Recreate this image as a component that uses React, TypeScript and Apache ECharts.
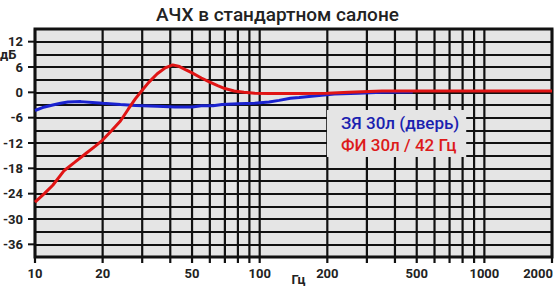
import React, { useEffect, useRef } from "react";
import * as echarts from "echarts";

const TITLE = "АЧХ в стандартном салоне";
const SERIES_NAMES = ["ЗЯ 30л (дверь)", "ФИ 30л / 42 Гц"];
const X_NAME = "Гц";
const Y_NAME = "дБ";

// closed box (door) response
const blueFreq = [10, 10.8, 12, 13, 14, 16, 18, 20, 24, 28, 35, 42, 50, 55, 62, 68, 80, 95, 110, 122, 137, 150, 170, 215, 275, 350, 480];
const blueDb = [-4.3, -3.6, -3.0, -2.6, -2.3, -2.2, -2.4, -2.6, -2.9, -3.1, -3.3, -3.5, -3.5, -3.2, -3.2, -2.9, -2.7, -2.6, -2.3, -1.9, -1.4, -1.2, -0.9, -0.4, -0.2, 0.0, 0.1];

// bass reflex response
const redFreq = [10, 11, 12, 13.5, 15, 17, 18.5, 20, 22, 24, 26, 28, 30, 32, 35, 38, 41, 44, 47, 50, 55, 60, 65, 70, 77, 85, 95, 110, 150, 200, 250, 350, 500, 1000, 2000];
const redDb = [-26, -24, -22, -18.5, -16.6, -14.3, -12.8, -11.3, -9.0, -6.8, -4.0, -1.5, 0.5, 2.3, 4.4, 5.8, 6.5, 6.1, 5.3, 4.6, 3.4, 2.4, 1.6, 0.9, 0.3, 0.0, -0.2, -0.3, -0.3, -0.2, 0.0, 0.3, 0.3, 0.3, 0.3];

const gridFreqs = [10, 20, 30, 40, 50, 60, 70, 80, 90, 100, 200, 300, 400, 500, 600, 700, 800, 900, 1000, 2000];
const xTickLabels = [10, 20, 50, 100, 200, 500, 1000, 2000];
const yTickValues = [12, 6, 0, -6, -12, -18, -24, -30, -36];

const X_MIN = 10;
const X_MAX = 2000;
const Y_MIN = -39;
const Y_MAX = 15;
const Y_STEP = 3;

const FONT = "Roboto, 'DejaVu Sans', sans-serif";

export default function App() {
  const ref = useRef<HTMLDivElement>(null);

  useEffect(() => {
    if (!ref.current) return;
    const chart = echarts.init(ref.current, undefined, { renderer: "svg" });

    const option: any = {
      animation: false,
      backgroundColor: "#ffffff",
      title: {
        text: TITLE,
        left: "center",
        top: 0,
        textStyle: { fontFamily: FONT, fontSize: 19, fontWeight: 500, color: "#222" },
      },
      grid: {
        left: 35,
        right: 3,
        top: 29,
        bottom: 31,
        show: true,
        backgroundColor: "#e5e5e5",
        borderColor: "#111",
        borderWidth: 3,
        containLabel: false,
        outerBoundsMode: "none",
      },
      legend: {
        orient: "vertical",
        left: 327,
        top: 110,
        itemWidth: 0,
        itemHeight: 0,
        itemGap: 5,
        padding: [4, 7, 4, 8],
        backgroundColor: "#e5e5e5",
        selectedMode: false,
        data: [
          { name: SERIES_NAMES[0], textStyle: { color: "#1a22b0" } },
          { name: SERIES_NAMES[1], textStyle: { color: "#dd1a1a" } },
        ],
        textStyle: { fontFamily: FONT, fontSize: 17, fontWeight: 500 },
      },
      xAxis: {
        type: "log",
        logBase: 10,
        min: X_MIN,
        max: X_MAX,
        name: X_NAME,
        nameLocation: "middle",
        nameGap: 16,
        nameTextStyle: { fontFamily: FONT, fontSize: 13, fontWeight: "bold", color: "#222", padding: [0, 0, 0, 10] },
        axisLine: { show: false },
        axisTick: { show: false },
        axisLabel: { show: false },
        splitLine: { show: false },
        minorSplitLine: { show: false },
      },
      yAxis: {
        type: "value",
        min: Y_MIN,
        max: Y_MAX,
        interval: Y_STEP,
        axisLine: { show: false },
        axisTick: { show: false },
        axisLabel: {
          margin: 12,
          fontFamily: FONT,
          fontSize: 13,
          fontWeight: "bold",
          color: "#222",
          formatter: (v: number) => (yTickValues.indexOf(v) >= 0 ? String(v) : ""),
        },
        splitLine: { show: true, lineStyle: { color: "#111", width: 2 } },
      },
      graphic: [
        {
          type: "text",
          left: 0,
          top: 48,
          style: { text: Y_NAME, font: `bold 13px ${FONT}`, fill: "#222" },
        },
      ],
      series: [
        {
          type: "custom",
          name: "vgrid",
          silent: true,
          clip: false,
          z: 3,
          data: gridFreqs.map((f) => [f, Y_MIN]),
          encode: { x: 0, y: 1 },
          renderItem: (params: any, api: any) => {
            const f = api.value(0);
            const top = api.coord([f, Y_MAX]);
            const bot = api.coord([f, Y_MIN]);
            return {
              type: "line",
              shape: { x1: top[0], y1: top[1], x2: bot[0], y2: bot[1] + 6 },
              style: { stroke: "#111", lineWidth: 2.2 },
            };
          },
        },
        {
          type: "custom",
          name: "yticks",
          silent: true,
          clip: false,
          z: 3,
          data: yTickValues.map((v) => [X_MIN, v]),
          encode: { x: 0, y: 1 },
          renderItem: (params: any, api: any) => {
            const p = api.coord([api.value(0), api.value(1)]);
            return {
              type: "line",
              shape: { x1: p[0] - 7, y1: p[1], x2: p[0], y2: p[1] },
              style: { stroke: "#111", lineWidth: 2 },
            };
          },
        },
        {
          type: "custom",
          name: "xlabels",
          silent: true,
          clip: false,
          z: 3,
          data: xTickLabels.map((f) => [f, Y_MIN]),
          encode: { x: 0, y: 1 },
          renderItem: (params: any, api: any) => {
            const f = api.value(0);
            const p = api.coord([f, Y_MIN]);
            const isLast = f === X_MAX;
            return {
              type: "text",
              x: isLast ? p[0] + 1 : p[0],
              y: p[1] + 16,
              style: {
                text: String(f),
                font: `bold 13px ${FONT}`,
                fill: "#222",
                textAlign: isLast ? "right" : "center",
                textVerticalAlign: "middle",
              },
            };
          },
        },
        {
          type: "line",
          name: SERIES_NAMES[0],
          data: blueFreq.map((f, i) => [f, blueDb[i]]),
          showSymbol: false,
          symbol: "none",
          z: 5,
          lineStyle: { color: "#1a22d0", width: 3 },
          itemStyle: { color: "#1a22d0" },
        },
        {
          type: "line",
          name: SERIES_NAMES[1],
          data: redFreq.map((f, i) => [f, redDb[i]]),
          showSymbol: false,
          symbol: "none",
          z: 6,
          lineStyle: { color: "#e01414", width: 3 },
          itemStyle: { color: "#e01414" },
        },
      ],
    };

    chart.setOption(option);
    return () => chart.dispose();
  }, []);

  return (
    <div
      ref={ref}
      style={{ position: "fixed", left: 0, top: 0, width: 555, height: 288 }}
    />
  );
}
